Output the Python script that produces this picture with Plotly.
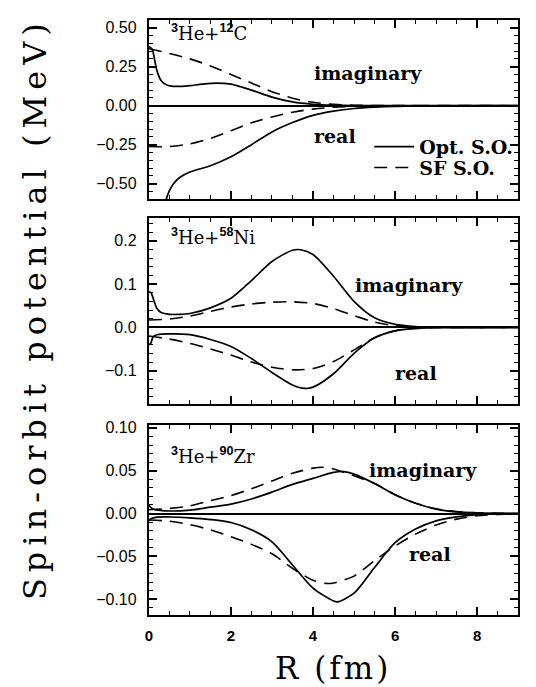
import plotly.graph_objects as go

W, H = 536, 687

# ---------------- 3He + 12C ----------------
c_r_im_opt = [0.0, 0.08, 0.15, 0.2, 0.3, 0.4, 0.55, 0.8, 1.0, 1.3, 1.65, 2.0, 2.5, 3.0, 3.5, 4.0, 4.5, 5.0, 6.0, 9.0]
c_im_opt = [0.38, 0.36, 0.28, 0.22, 0.16, 0.138, 0.125, 0.124, 0.128, 0.138, 0.145, 0.138, 0.100, 0.055, 0.024, 0.009, 0.003, 0.001, 0.0002, 0.0]
c_r_im_sf = [0.0, 0.5, 1.0, 1.5, 2.0, 2.5, 3.0, 3.5, 4.0, 4.5, 5.0, 6.0, 9.0]
c_im_sf = [0.365, 0.335, 0.300, 0.255, 0.200, 0.145, 0.090, 0.048, 0.022, 0.009, 0.003, 0.0005, 0.0]
c_r_re_opt = [0.3, 0.4, 0.5, 0.6, 0.75, 1.0, 1.5, 2.0, 2.5, 3.0, 3.5, 4.0, 4.5, 5.0, 5.5, 6.0, 7.0, 9.0]
c_re_opt = [-0.75, -0.62, -0.545, -0.50, -0.46, -0.425, -0.385, -0.328, -0.25, -0.168, -0.108, -0.062, -0.035, -0.018, -0.009, -0.004, -0.001, 0.0]
c_r_re_sf = [0.0, 0.5, 1.0, 1.5, 2.0, 2.5, 3.0, 3.5, 4.0, 4.5, 5.0, 6.0, 9.0]
c_re_sf = [-0.262, -0.262, -0.245, -0.210, -0.160, -0.110, -0.072, -0.042, -0.022, -0.010, -0.004, -0.0005, 0.0]

# ---------------- 3He + 58Ni ----------------
n_r_im_opt = [0.0, 0.05, 0.1, 0.2, 0.3, 0.5, 0.75, 1.0, 1.5, 2.0, 2.5, 3.0, 3.5, 3.7, 4.0, 4.5, 5.0, 5.5, 6.0, 6.5, 7.0, 9.0]
n_im_opt = [0.082, 0.080, 0.068, 0.043, 0.034, 0.030, 0.030, 0.032, 0.045, 0.067, 0.108, 0.152, 0.178, 0.179, 0.168, 0.118, 0.060, 0.022, 0.007, 0.002, 0.0006, 0.0]
n_r_im_sf = [0.0, 0.5, 1.0, 1.5, 2.0, 2.5, 3.0, 3.5, 4.0, 4.5, 5.0, 5.5, 6.0, 6.5, 7.0, 9.0]
n_im_sf = [0.017, 0.019, 0.026, 0.037, 0.047, 0.054, 0.058, 0.059, 0.055, 0.043, 0.027, 0.012, 0.004, 0.0012, 0.0003, 0.0]
n_r_re_opt = [0.0, 0.05, 0.1, 0.2, 0.5, 1.0, 1.5, 2.0, 2.5, 3.0, 3.5, 3.8, 4.0, 4.5, 5.0, 5.5, 6.0, 6.5, 7.0, 9.0]
n_re_opt = [-0.040, -0.036, -0.022, -0.017, -0.015, -0.017, -0.028, -0.044, -0.072, -0.104, -0.133, -0.141, -0.138, -0.107, -0.060, -0.024, -0.008, -0.0025, -0.0007, 0.0]
n_r_re_sf = [0.0, 0.5, 1.0, 1.5, 2.0, 2.5, 3.0, 3.5, 4.0, 4.5, 5.0, 5.5, 6.0, 6.5, 7.0, 9.0]
n_re_sf = [-0.020, -0.027, -0.037, -0.050, -0.064, -0.080, -0.092, -0.098, -0.095, -0.079, -0.052, -0.024, -0.008, -0.0025, -0.0007, 0.0]

# ---------------- 3He + 90Zr ----------------
z_r_im_opt = [0.0, 0.05, 0.15, 0.5, 1.0, 1.5, 2.0, 2.5, 3.0, 3.5, 4.0, 4.5, 4.75, 5.0, 5.5, 6.0, 6.5, 7.0, 7.5, 8.0, 9.0]
z_im_opt = [0.010, 0.007, 0.0045, 0.003, 0.004, 0.0075, 0.011, 0.017, 0.025, 0.034, 0.041, 0.048, 0.049, 0.046, 0.035, 0.022, 0.012, 0.0052, 0.002, 0.0008, 0.0]
z_r_im_sf = [0.0, 0.5, 1.0, 1.5, 2.0, 2.5, 3.0, 3.5, 4.0, 4.25, 4.5, 5.0, 5.5, 6.0, 6.5, 7.0, 7.5, 8.0, 9.0]
z_im_sf = [0.0045, 0.006, 0.009, 0.015, 0.021, 0.029, 0.038, 0.047, 0.053, 0.054, 0.052, 0.044, 0.035, 0.022, 0.012, 0.0055, 0.0023, 0.0009, 0.0]
z_r_re_opt = [0.0, 0.05, 0.2, 0.5, 1.0, 1.5, 2.0, 2.5, 3.0, 3.5, 4.0, 4.5, 4.6, 5.0, 5.5, 6.0, 6.5, 7.0, 7.5, 8.0, 9.0]
z_re_opt = [-0.0085, -0.006, -0.0042, -0.004, -0.005, -0.007, -0.0105, -0.019, -0.033, -0.060, -0.087, -0.102, -0.103, -0.093, -0.063, -0.034, -0.018, -0.0085, -0.0038, -0.0012, 0.0]
z_r_re_sf = [0.0, 0.5, 1.0, 1.5, 2.0, 2.5, 3.0, 3.5, 4.0, 4.3, 4.5, 5.0, 5.5, 6.0, 6.5, 7.0, 7.5, 8.0, 8.5, 9.0]
z_re_sf = [-0.0075, -0.009, -0.013, -0.019, -0.027, -0.036, -0.047, -0.064, -0.078, -0.0815, -0.081, -0.073, -0.055, -0.038, -0.024, -0.0135, -0.0065, -0.0025, -0.001, 0.0]

SUP = '<sup><span style="font-family:\'Liberation Sans\', Arial, sans-serif;font-weight:bold">{}</span></sup>'
panel_labels = [SUP.format("3") + "He+" + SUP.format("12") + "C",
                SUP.format("3") + "He+" + SUP.format("58") + "Ni",
                SUP.format("3") + "He+" + SUP.format("90") + "Zr"]
y_ranges = [[-0.6, 0.55], [-0.178, 0.252], [-0.118, 0.103]]
y_dticks = [0.25, 0.1, 0.05]
y_minor = [0.05, 0.02, 0.01]
y_formats = [".2f", ".1f", ".2f"]

panels = [
    [(c_r_im_opt, c_im_opt), (c_r_im_sf, c_im_sf), (c_r_re_opt, c_re_opt), (c_r_re_sf, c_re_sf)],
    [(n_r_im_opt, n_im_opt), (n_r_im_sf, n_im_sf), (n_r_re_opt, n_re_opt), (n_r_re_sf, n_re_sf)],
    [(z_r_im_opt, z_im_opt), (z_r_im_sf, z_im_sf), (z_r_re_opt, z_re_opt), (z_r_re_sf, z_re_sf)],
]


def fx(p):
    return p / W


def fy(p):
    return 1 - p / H


x_dom = [fx(146), fx(518)]
y_doms = [[fy(195), fy(14)], [fy(402), fy(214)], [fy(614), fy(423)]]

SOLID = dict(color="black", width=1.7)
DASH = dict(color="black", width=1.6, dash="13px,8px")

fig = go.Figure()
for i, curves in enumerate(panels):
    xa = "x" if i == 0 else f"x{i+1}"
    ya = "y" if i == 0 else f"y{i+1}"
    for j, (r, v) in enumerate(curves):
        solid = (j % 2 == 0)
        show = (i == 0 and j < 2)
        fig.add_trace(go.Scatter(
            x=r, y=v, mode="lines", xaxis=xa, yaxis=ya,
            line=dict(SOLID if solid else DASH, shape="spline", smoothing=0.8),
            name="Opt. S.O." if solid else "SF S.O.",
            showlegend=show,
            legend="legend" if solid else "legend2",
            hoverinfo="skip",
        ))

TICKFONT = dict(family="Liberation Sans, Arial, sans-serif", size=16, color="black")
layout = dict(
    width=W, height=H,
    margin=dict(l=0, r=0, t=0, b=0),
    paper_bgcolor="white", plot_bgcolor="white",
    showlegend=True,
)
for i in range(3):
    xk = "xaxis" if i == 0 else f"xaxis{i+1}"
    yk = "yaxis" if i == 0 else f"yaxis{i+1}"
    ya = "y" if i == 0 else f"y{i+1}"
    xa = "x" if i == 0 else f"x{i+1}"
    layout[xk] = dict(
        domain=x_dom, anchor=ya, range=[0, 9],
        showline=True, mirror="allticks", linecolor="black", linewidth=2.2,
        ticks="inside", ticklen=8, tickwidth=1.5, tickcolor="black",
        tick0=0, dtick=2,
        minor=dict(ticks="inside", ticklen=4, tickwidth=1.2, dtick=0.5, tickcolor="black"),
        showgrid=False, zeroline=False,
        showticklabels=(i == 2),
        tickfont=dict(family="Liberation Sans, Arial, sans-serif", size=15, color="black", weight="bold"),
        ticklabelstandoff=6,
    )
    layout[yk] = dict(
        domain=y_doms[i], anchor=xa, range=y_ranges[i],
        showline=True, mirror="allticks", linecolor="black", linewidth=2.2,
        ticks="inside", ticklen=8, tickwidth=1.5, tickcolor="black",
        tick0=0, dtick=y_dticks[i], tickformat=y_formats[i],
        minor=dict(ticks="inside", ticklen=4, tickwidth=1.2, dtick=y_minor[i], tickcolor="black"),
        showgrid=False,
        zeroline=True, zerolinecolor="black", zerolinewidth=2 if i < 2 else 1.6,
        tickfont=TICKFONT, ticklabelstandoff=7,
    )

LEGFONT = dict(family="DejaVu Serif, serif", size=19, color="black", weight="bold")
layout["legend"] = dict(x=fx(368), y=fy(142), xanchor="left", yanchor="middle",
                        font=LEGFONT, bgcolor="rgba(0,0,0,0)", borderwidth=0,
                        itemwidth=40, tracegroupgap=0)
layout["legend2"] = dict(x=fx(368), y=fy(163), xanchor="left", yanchor="middle",
                         font=LEGFONT, bgcolor="rgba(0,0,0,0)", borderwidth=0,
                         itemwidth=40, tracegroupgap=0)
fig.update_layout(**layout)

BOLD = dict(family="DejaVu Serif, serif", size=19, color="black", weight="bold")
word_labels = [("imaginary", 367, 68), ("real", 333, 131),
               ("imaginary", 408, 281), ("real", 415, 370),
               ("imaginary", 422, 468), ("real", 429, 553)]
for txt, px, py in word_labels:
    fig.add_annotation(text=txt, x=fx(px), y=fy(py), xref="paper", yref="paper",
                       showarrow=False, font=BOLD, xanchor="center", yanchor="middle")

for lab, py in zip(panel_labels, [27, 233, 453]):
    fig.add_annotation(text=lab, x=fx(166), y=fy(py), xref="paper", yref="paper",
                       showarrow=False, xanchor="left", yanchor="middle",
                       font=dict(family="DejaVu Serif, serif", size=18, color="black"))

fig.add_annotation(text='<span style="letter-spacing:6px">Spin-orbit potential (MeV)</span>',
                   x=fx(32), y=fy(305), xref="paper", yref="paper", showarrow=False,
                   textangle=-90, xanchor="center", yanchor="middle",
                   font=dict(family="DejaVu Serif, serif", size=32, color="black"))
fig.add_annotation(text='<span style="letter-spacing:3px">R (fm)</span>',
                   x=fx(331), y=fy(668), xref="paper", yref="paper", showarrow=False,
                   xanchor="center", yanchor="middle",
                   font=dict(family="DejaVu Serif, serif", size=31, color="black"))

fig.write_html("out.html")
